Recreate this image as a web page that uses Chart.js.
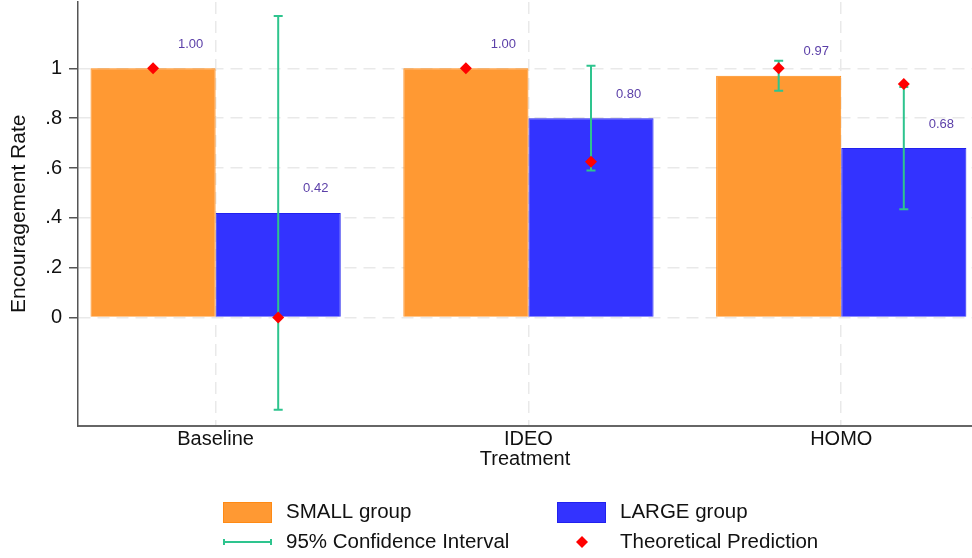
<!DOCTYPE html>
<html>
<head>
<meta charset="utf-8">
<title>Encouragement Rate by Treatment</title>
<script src="https://cdn.jsdelivr.net/npm/chart.js@4.4.1/dist/chart.umd.min.js"></script>
<style>
  html, body { margin: 0; padding: 0; background: #ffffff; }
  #wrap { width: 972px; height: 558px; position: relative; }
</style>
</head>
<body>
<div id="wrap"><canvas id="chart" width="972" height="558"></canvas></div>
<script>
// ---- data ----
const categories = ['Baseline', 'IDEO', 'HOMO'];
const smallGroup = [1.00, 1.00, 0.97];
const largeGroup = [0.42, 0.80, 0.68];
const smallCILow  = [null, null, 0.91];
const smallCIHigh = [null, null, 1.03];
const largeCILow  = [-0.37, 0.59, 0.435];
const largeCIHigh = [1.21, 1.01, 0.925];
const smallPrediction = [1.00, 1.00, 1.00];
const largePrediction = [0.00, 0.625, 0.9375];
const yTickValues = [0, 0.2, 0.4, 0.6, 0.8, 1];
const yTickLabels = ['0', '.2', '.4', '.6', '.8', '1'];

// ---- styling ----
const ORANGE = '#FF9933', ORANGE_EDGE = '#FF8A14';
const BLUE = '#3333FF', BLUE_EDGE = '#2121EE';
const CI_GREEN = '#2EC48E';
const PRED_RED = '#FF0000';
const LABEL_PURPLE = '#5B3FA8';
const FONT = "'Liberation Sans', Arial, Helvetica, sans-serif";

Chart.defaults.font.family = FONT;
Chart.defaults.color = '#111111';

const CAT_PCT = 0.8;                 // share of each category band used by the bar pair
const groupOffset = CAT_PCT / 4;     // centre of each bar within its band
const positions = categories.map((_, i) => i + 1);

const toPoints = (vals, shift) => vals.map((v, i) => ({ x: positions[i] + shift, y: v }));

// error bars for each bar dataset, drawn just beneath the prediction markers
const ciSets = [
  { low: smallCILow, high: smallCIHigh },
  { low: largeCILow, high: largeCIHigh }
];

const ciPlugin = {
  id: 'ciBars',
  beforeDatasetDraw(chart, args) {
    if (args.index !== 2) return;
    const { ctx } = chart;
    const y = chart.scales.y;
    ctx.save();
    ctx.strokeStyle = CI_GREEN;
    ctx.lineWidth = 2;
    ciSets.forEach((set, d) => {
      const meta = chart.getDatasetMeta(d);
      meta.data.forEach((bar, i) => {
        const lo = set.low[i], hi = set.high[i];
        if (lo == null || hi == null) return;
        const x = bar.x;
        const y1 = y.getPixelForValue(lo), y2 = y.getPixelForValue(hi);
        const cap = 4.5;
        ctx.beginPath();
        ctx.moveTo(x, y1); ctx.lineTo(x, y2);
        ctx.moveTo(x - cap, y1); ctx.lineTo(x + cap, y1);
        ctx.moveTo(x - cap, y2); ctx.lineTo(x + cap, y2);
        ctx.stroke();
      });
    });
    ctx.restore();
  }
};

// value labels above and to the right of each bar
const valueLabelPlugin = {
  id: 'valueLabels',
  afterDatasetsDraw(chart) {
    const { ctx } = chart;
    ctx.save();
    ctx.font = '13px ' + FONT;
    ctx.fillStyle = LABEL_PURPLE;
    ctx.textAlign = 'center';
    ctx.textBaseline = 'middle';
    [0, 1].forEach(d => {
      const meta = chart.getDatasetMeta(d);
      const values = chart.data.datasets[d].data;
      meta.data.forEach((bar, i) => {
        ctx.fillText(values[i].y.toFixed(2), bar.x + bar.width * 0.3, bar.y - 24);
      });
    });
    ctx.restore();
  }
};

// two-column legend under the axis title
const legendPlugin = {
  id: 'gridLegend',
  afterDraw(chart) {
    const { ctx } = chart;
    ctx.save();
    ctx.font = '20.5px ' + FONT;
    ctx.fillStyle = '#111111';
    ctx.textAlign = 'left';
    ctx.textBaseline = 'middle';

    const row1 = 512.5, row2 = 542;
    const col1 = 223, col2 = 557, keyW = 49, gap = 14;

    // SMALL group
    ctx.fillStyle = ORANGE; ctx.fillRect(col1, row1 - 10.5, keyW, 21);
    ctx.strokeStyle = ORANGE_EDGE; ctx.lineWidth = 1; ctx.strokeRect(col1 + 0.5, row1 - 10, keyW - 1, 20);
    ctx.fillStyle = '#111111'; ctx.fillText('SMALL group', col1 + keyW + gap, row1);

    // LARGE group
    ctx.fillStyle = BLUE; ctx.fillRect(col2, row1 - 10.5, keyW, 21);
    ctx.strokeStyle = BLUE_EDGE; ctx.strokeRect(col2 + 0.5, row1 - 10, keyW - 1, 20);
    ctx.fillStyle = '#111111'; ctx.fillText('LARGE group', col2 + keyW + 14, row1);

    // confidence interval key
    ctx.strokeStyle = CI_GREEN; ctx.lineWidth = 2;
    ctx.beginPath();
    ctx.moveTo(col1, row2); ctx.lineTo(col1 + keyW, row2);
    ctx.moveTo(col1 + 1, row2 - 3); ctx.lineTo(col1 + 1, row2 + 3);
    ctx.moveTo(col1 + keyW - 1, row2 - 3); ctx.lineTo(col1 + keyW - 1, row2 + 3);
    ctx.stroke();
    ctx.fillStyle = '#111111'; ctx.fillText('95% Confidence Interval', col1 + keyW + gap, row2);

    // prediction key
    const cx = col2 + keyW / 2 + 0.5, r = 6;
    ctx.fillStyle = PRED_RED;
    ctx.beginPath();
    ctx.moveTo(cx, row2 - r); ctx.lineTo(cx + r, row2); ctx.lineTo(cx, row2 + r); ctx.lineTo(cx - r, row2);
    ctx.closePath(); ctx.fill();
    ctx.fillStyle = '#111111'; ctx.fillText('Theoretical Prediction', col2 + keyW + 14, row2);
    ctx.restore();
  }
};

new Chart(document.getElementById('chart'), {
  type: 'bar',
  data: {
    datasets: [
      {
        label: 'SMALL group',
        data: toPoints(smallGroup, 0),
        backgroundColor: ORANGE,
        borderColor: ORANGE_EDGE,
        borderWidth: 1,
        categoryPercentage: CAT_PCT,
        barPercentage: 1,
        order: 1
      },
      {
        label: 'LARGE group',
        data: toPoints(largeGroup, 0),
        backgroundColor: BLUE,
        borderColor: BLUE_EDGE,
        borderWidth: 1,
        categoryPercentage: CAT_PCT,
        barPercentage: 1,
        order: 1
      },
      {
        type: 'scatter',
        label: 'Theoretical Prediction',
        data: toPoints(smallPrediction, -groupOffset).concat(toPoints(largePrediction, groupOffset)),
        pointStyle: 'rectRot',
        pointRadius: 6,
        pointHoverRadius: 6,
        backgroundColor: PRED_RED,
        borderColor: PRED_RED,
        borderWidth: 0,
        clip: false,
        order: 0
      }
    ]
  },
  options: {
    responsive: false,
    animation: false,
    devicePixelRatio: 1,
    layout: { autoPadding: false, padding: { top: 2, right: 0, bottom: 86.5, left: 0 } },
    plugins: {
      legend: { display: false },
      tooltip: { enabled: false }
    },
    scales: {
      x: {
        type: 'linear',
        offset: false,
        min: 0.56,
        max: 3.418,
        afterFit(scale) { scale.height = 46; scale.paddingLeft = 0; scale.paddingRight = 0; },
        afterBuildTicks(scale) { scale.ticks = positions.map(v => ({ value: v })); },
        ticks: {
          padding: 2,
          font: { size: 20 },
          color: '#111111',
          maxRotation: 0,
          autoSkip: false,
          callback: (value, index) => categories[index]
        },
        grid: { offset: false, color: '#E9E9E9', lineWidth: 1.5, drawTicks: false },
        border: { color: '#666666', width: 2, dash: [12, 7] },
        title: { display: true, text: 'Treatment', font: { size: 20 }, color: '#111111', padding: { top: 0, bottom: 0 } }
      },
      y: {
        type: 'linear',
        min: -0.433,
        max: 1.266,
        afterFit(scale) { scale.width = 78; scale.paddingTop = 0; scale.paddingBottom = 0; },
        afterBuildTicks(scale) { scale.ticks = yTickValues.map(v => ({ value: v })); },
        ticks: {
          padding: 7,
          font: { size: 20 },
          color: '#111111',
          callback: (value, index) => yTickLabels[index]
        },
        grid: {
          color: '#E9E9E9',
          lineWidth: 1.5,
          tickLength: 9,
          tickColor: '#555555',
          tickWidth: 1.5,
          tickBorderDash: []
        },
        border: { color: '#555555', width: 1.5, dash: [12, 7] },
        title: { display: true, text: 'Encouragement Rate', font: { size: 21 }, color: '#111111', padding: { top: 7, bottom: 0 } }
      }
    }
  },
  plugins: [ciPlugin, valueLabelPlugin, legendPlugin]
});
</script>
</body>
</html>
